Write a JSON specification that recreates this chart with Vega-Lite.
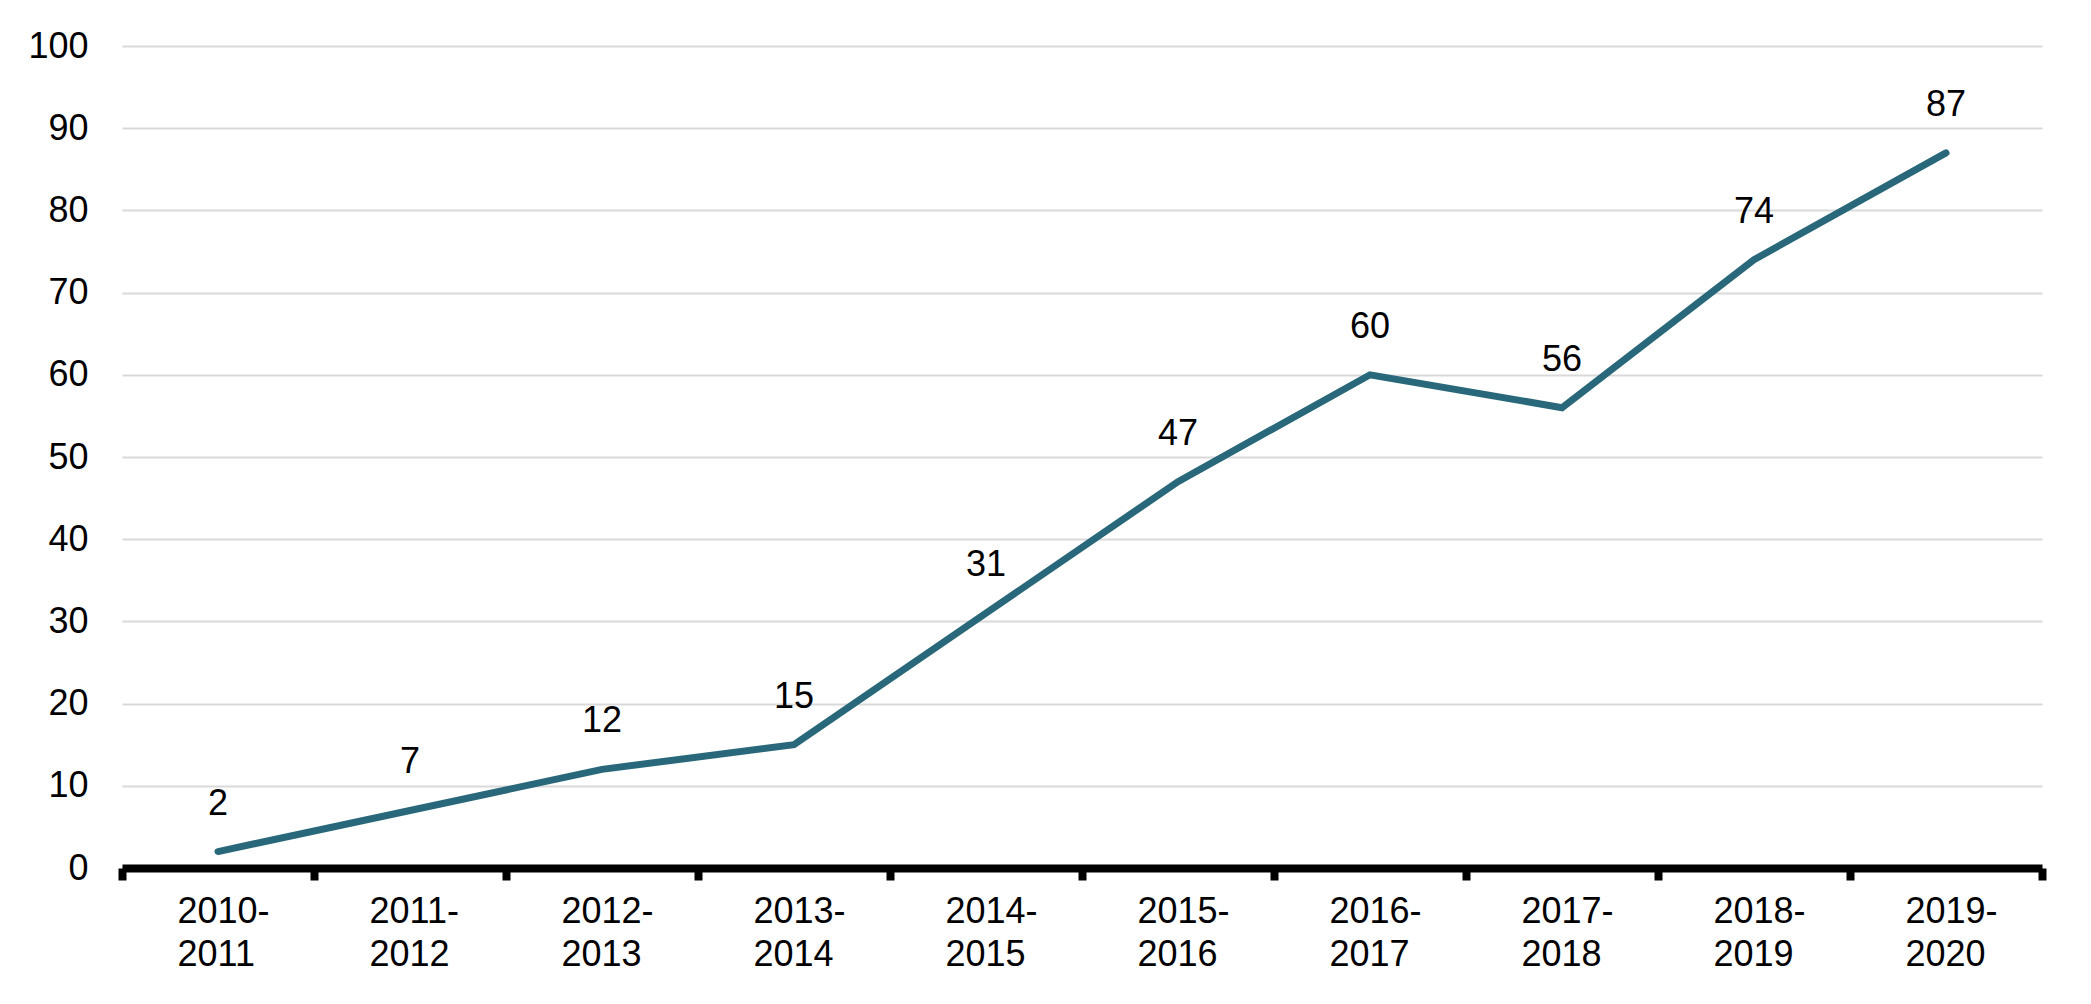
{
  "$schema": "https://vega.github.io/schema/vega-lite/v6.json",
  "width": 1920,
  "height": 822,
  "autosize": {"type": "none"},
  "padding": {"left": 122, "top": 46, "right": 49, "bottom": 136},
  "background": "white",
  "config": {
    "view": {"stroke": null},
    "font": "Liberation Sans"
  },
  "data": {
    "values": [
      {"period": "2010-2011", "value": 2},
      {"period": "2011-2012", "value": 7},
      {"period": "2012-2013", "value": 12},
      {"period": "2013-2014", "value": 15},
      {"period": "2014-2015", "value": 31},
      {"period": "2015-2016", "value": 47},
      {"period": "2016-2017", "value": 60},
      {"period": "2017-2018", "value": 56},
      {"period": "2018-2019", "value": 74},
      {"period": "2019-2020", "value": 87}
    ]
  },
  "encoding": {
    "x": {
      "field": "period",
      "type": "ordinal",
      "sort": null,
      "bandPosition": 0.5,
      "scale": {"type": "band", "paddingInner": 0, "paddingOuter": 0},
      "axis": {
        "title": null,
        "labelAngle": 0,
        "labelFont": "Liberation Sans",
        "labelFontSize": 36,
        "labelColor": "#000000",
        "labelAlign": "left",
        "labelOffset": -41,
        "labelBaseline": "top",
        "labelPadding": 14,
        "labelLineHeight": 43,
        "labelExpr": "[substring(datum.label, 0, 5), substring(datum.label, 5)]",
        "domainColor": "#000000",
        "domainWidth": 8,
        "tickColor": "#000000",
        "tickWidth": 8,
        "tickSize": 12,
        "tickBand": "extent",
        "grid": false
      }
    },
    "y": {
      "field": "value",
      "type": "quantitative",
      "scale": {"domain": [0, 100], "nice": false},
      "axis": {
        "title": null,
        "values": [0, 10, 20, 30, 40, 50, 60, 70, 80, 90, 100],
        "labelFont": "Liberation Sans",
        "labelFontSize": 36,
        "labelColor": "#000000",
        "labelPadding": 34,
        "domain": false,
        "ticks": false,
        "grid": true,
        "gridColor": "#d9d9d9",
        "gridWidth": 2
      }
    }
  },
  "layer": [
    {
      "mark": {"type": "line", "color": "#29687a", "strokeWidth": 7, "strokeCap": "round", "strokeJoin": "miter"}
    },
    {
      "mark": {"type": "text", "fontSize": 36, "font": "Liberation Sans", "color": "#000000", "baseline": "alphabetic", "align": "center", "dy": -37},
      "encoding": {"text": {"field": "value", "type": "quantitative"}}
    }
  ]
}
